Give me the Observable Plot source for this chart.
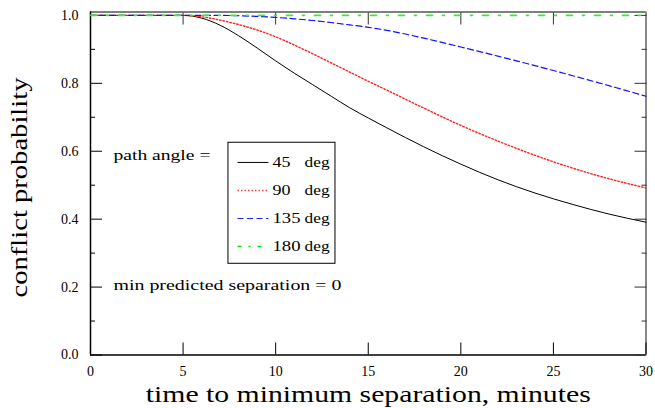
<!DOCTYPE html>
<html>
<head>
<meta charset="utf-8">
<script src="https://cdn.jsdelivr.net/npm/d3@7"></script>
<script src="https://cdn.jsdelivr.net/npm/@observablehq/plot@0.6"></script>
<style>
  body { margin: 0; background: #fff; }
</style>
</head>
<body>
<div id="chart"></div>
<script>
// ---- data ----
const minutes = [0,1,2,3,4,5,6,7,8,9,10,11,12,13,14,15,16,18,20,22,24,26,28,30];
const p45  = [1,1,1,1,1,1,0.992,0.971,0.94,0.904,0.866,0.83,0.796,0.762,0.728,0.698,0.669,0.613,0.562,0.516,0.477,0.444,0.415,0.391];
const p90  = [1,1,1,1,1,1,0.996,0.986,0.973,0.957,0.937,0.913,0.887,0.86,0.833,0.806,0.78,0.727,0.676,0.63,0.588,0.551,0.519,0.492];
const p135 = [1,1,1,1,1,1,1,1,0.999,0.997,0.994,0.99,0.985,0.979,0.972,0.965,0.956,0.933,0.907,0.88,0.852,0.823,0.793,0.762];
const p180 = [1,1,1,1,1,1,1,1,1,1,1,1,1,1,1,1,1,1,1,1,1,1,1,1];
const angles = ["45", "90", "135", "180"];
const xTicks = [0,5,10,15,20,25,30];
const yTicks = [0,0.2,0.4,0.6,0.8,1.0];
const yMinor = [0.1,0.3,0.5,0.7,0.9];
const xLabel = "time to minimum separation, minutes";
const yLabel = "conflict probability";
const noteTop = "path angle =";
const noteBottom = "min predicted separation = 0";

// ---- pick an installed Times-like serif ----
function hasFont(name) {
  const ctx = document.createElement("canvas").getContext("2d");
  const probe = "abcdefghijklmnopqrstuvwxyz0123456789";
  ctx.font = "40px monospace";
  const base = ctx.measureText(probe).width;
  ctx.font = `40px "${name}", monospace`;
  return ctx.measureText(probe).width !== base;
}
const serifName = ["Liberation Serif", "Times New Roman", "Tinos", "Nimbus Roman", "DejaVu Serif"].find(hasFont) || "serif";
const font = `"${serifName}", serif`;

// ---- styles ----
const seriesValues = [p45, p90, p135, p180];
const styles = [
  {stroke: "#000000", strokeWidth: 1, dash: null, legendDash: null, legendStroke: "#000"},
  {stroke: "#ff2020", strokeWidth: 1.4, dash: "1.5,2", legendDash: "1.5,2", legendStroke: "#ff4040"},
  {stroke: "#1010ff", strokeWidth: 1.2, dash: "6,3.5", legendDash: "6,3.5", legendStroke: "#2020ff"},
  {stroke: "#33ee33", strokeWidth: 1.6, dash: "6,10,2,10", legendDash: "4,7,2,7", legendStroke: "#00dd00"}
];
const series = seriesValues.map((vals, s) =>
  minutes.map((t, i) => ({t, p: vals[i], angle: angles[s]}))
);

// legend layout (data units)
const legendBox = {x1: 7.45, x2: 13.23, y1: 0.2686, y2: 0.625};
const legendRowY = [0.567, 0.4845, 0.402, 0.3196];
const sampleX1 = 7.94, sampleX2 = 9.61, numX = 9.83, degX = 11.56;
const noteX = 1.24, noteTopY = 0.588, noteBottomY = 0.2047;

// target horizontal extents of wide texts (px)
const textWidths = {
  [xLabel]: 445, [yLabel]: 220, [noteTop]: 97, [noteBottom]: 228,
  "deg": 25, "135": 28, "180": 28, "45": 18, "90": 18
};

const marks = [];

// frame
marks.push(Plot.ruleY([0], {stroke: "#000", strokeWidth: 1.5}));
marks.push(Plot.ruleY([1.01], {stroke: "#000", strokeWidth: 1.2}));
marks.push(Plot.ruleX([0], {stroke: "#000", strokeWidth: 1.5}));
marks.push(Plot.ruleX([30], {stroke: "#888", strokeWidth: 2}));

// inward ticks
marks.push(Plot.axisY(yTicks, {anchor: "left", tickSize: -12, fill: "none", label: null}));
marks.push(Plot.axisY(yMinor, {anchor: "left", tickSize: -5, fill: "none", label: null}));
marks.push(Plot.axisY(yTicks, {anchor: "right", tickSize: -12, fill: "none", label: null, stroke: "#333"}));
marks.push(Plot.axisY(yMinor, {anchor: "right", tickSize: -5, fill: "none", label: null, stroke: "#333"}));
marks.push(Plot.axisX(xTicks, {anchor: "bottom", tickSize: -12, fill: "none", label: null}));
marks.push(Plot.axisX(xTicks.slice(1, -1), {anchor: "top", tickSize: -12, fill: "none", label: null, stroke: "#333"}));

// tick labels
marks.push(Plot.axisY(yTicks, {anchor: "left", tickSize: 0, tickPadding: 12, tickFormat: d3.format(".1f"), fontSize: 14, fontFamily: font, label: null}));
marks.push(Plot.axisX(xTicks, {anchor: "bottom", tickSize: 0, tickPadding: 11, fontSize: 14, fontFamily: font, label: null}));

// axis titles
marks.push(Plot.text([xLabel], {frameAnchor: "bottom", dy: 39, fontSize: 24, fontFamily: font, textAnchor: "middle", lineAnchor: "middle"}));
marks.push(Plot.text([yLabel], {frameAnchor: "left", dx: -71, dy: 4, rotate: -90, fontSize: 24, fontFamily: font, textAnchor: "middle", lineAnchor: "middle"}));

// data lines
series.forEach((data, s) => {
  const st = styles[s];
  marks.push(Plot.line(data, {
    x: "t", y: "p", curve: "monotone-x",
    stroke: st.stroke, strokeWidth: st.strokeWidth,
    strokeDasharray: st.dash || undefined
  }));
});

// legend / annotations
marks.push(Plot.rect([legendBox], {x1: "x1", x2: "x2", y1: "y1", y2: "y2", fill: "white", stroke: "#000", strokeWidth: 1}));
angles.forEach((a, i) => {
  const st = styles[i];
  marks.push(Plot.link([a], {
    x1: () => sampleX1, x2: () => sampleX2,
    y1: () => legendRowY[i], y2: () => legendRowY[i],
    stroke: st.legendStroke, strokeWidth: st.strokeWidth,
    strokeDasharray: st.legendDash || undefined
  }));
});
const txt = {textAnchor: "start", fontSize: 15, fontFamily: font, lineAnchor: "middle"};
marks.push(Plot.text(angles, {x: () => numX, y: (d, i) => legendRowY[i], text: d => d, ...txt}));
marks.push(Plot.text(angles, {x: () => degX, y: (d, i) => legendRowY[i], text: () => "deg", ...txt}));
marks.push(Plot.text([noteTop], {x: () => noteX, y: () => noteTopY, ...txt}));
marks.push(Plot.text([noteBottom], {x: () => noteX, y: () => noteBottomY, ...txt}));

const chart = Plot.plot({
  width: 655,
  height: 408,
  marginLeft: 90,
  marginRight: 9.5,
  marginTop: 11.5,
  marginBottom: 53.5,
  x: {domain: [0, 30], axis: null},
  y: {domain: [0, 1.01], axis: null},
  style: {fontFamily: font, background: "#fff", color: "#000", overflow: "visible"},
  marks
});
document.getElementById("chart").appendChild(chart);

// widen the serif texts to the extents seen in the reference
chart.querySelectorAll("text").forEach(el => {
  const w = textWidths[el.textContent];
  if (w) {
    el.setAttribute("textLength", w);
    el.setAttribute("lengthAdjust", "spacingAndGlyphs");
  }
});
</script>
</body>
</html>
